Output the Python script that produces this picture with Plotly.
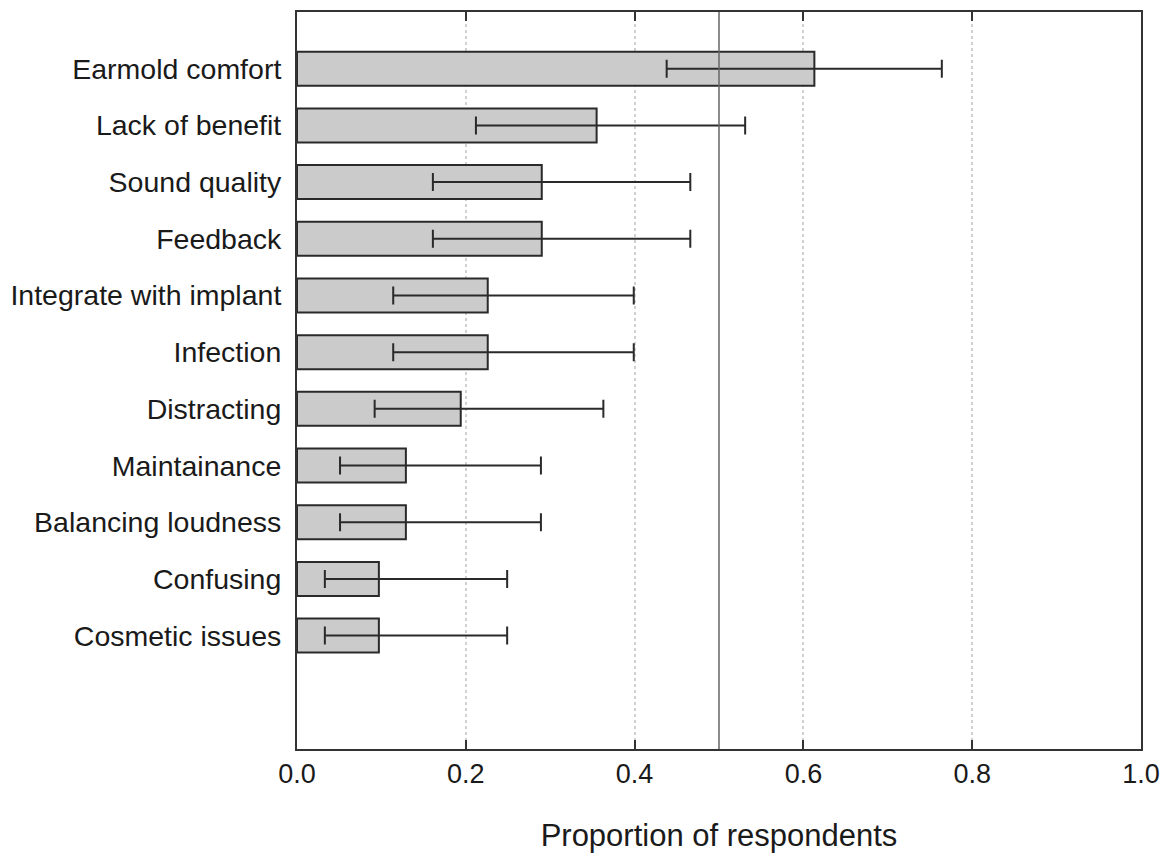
import plotly.graph_objects as go

categories = ["Earmold comfort", "Lack of benefit", "Sound quality", "Feedback",
              "Integrate with implant", "Infection", "Distracting", "Maintainance",
              "Balancing loudness", "Confusing", "Cosmetic issues"]
proportion = [0.613, 0.355, 0.290, 0.290, 0.226, 0.226, 0.194, 0.129, 0.129, 0.097, 0.097]
ci_low = [0.438, 0.212, 0.161, 0.161, 0.114, 0.114, 0.092, 0.051, 0.051, 0.033, 0.033]
ci_high = [0.764, 0.531, 0.466, 0.466, 0.399, 0.399, 0.363, 0.289, 0.289, 0.249, 0.249]
x_ticks = [0.0, 0.2, 0.4, 0.6, 0.8, 1.0]
x_tick_labels = ["0.0", "0.2", "0.4", "0.6", "0.8", "1.0"]
reference_line = 0.5

n = len(categories)
ypos = [n - i for i in range(n)]
err_plus = [h - v for h, v in zip(ci_high, proportion)]
err_minus = [v - l for v, l in zip(proportion, ci_low)]

fig = go.Figure()
fig.add_trace(go.Bar(
    x=proportion, y=ypos, orientation="h", width=0.6,
    marker=dict(color="#cbcbcb", line=dict(color="#2a2a2a", width=2)),
    error_x=dict(type="data", symmetric=False, array=err_plus, arrayminus=err_minus,
                 color="#2a2a2a", thickness=2, width=9),
    showlegend=False, hoverinfo="x+y",
))

fig.add_shape(type="line", xref="x", yref="paper", x0=reference_line, x1=reference_line,
              y0=0, y1=1, line=dict(color="#666666", width=1.5), layer="above")

font_family = "Liberation Sans, Arial, sans-serif"
fig.update_layout(
    width=1170, height=857,
    margin=dict(l=289, r=37, t=2, b=116),
    paper_bgcolor="white", plot_bgcolor="white",
    font=dict(family=font_family, color="#1a1a1a", size=27),
    xaxis=dict(
        range=[0, 1.0], tickvals=x_ticks, ticktext=x_tick_labels,
        ticks="inside", ticklen=9, tickwidth=2, tickcolor="#333333",
        showline=True, linecolor="#333333", linewidth=2, mirror="ticks",
        showgrid=True, gridcolor="#d0d0d0", griddash="dot", gridwidth=1.5,
        zeroline=False,
        tickfont=dict(size=27, family=font_family, color="#1a1a1a"),
        title=dict(text="Proportion of respondents", standoff=36,
                   font=dict(size=31, family=font_family, color="#1a1a1a")),
    ),
    yaxis=dict(
        range=[-1, 12], tickvals=ypos, ticktext=categories,
        ticks="", showline=True, linecolor="#333333", linewidth=2, mirror=True,
        showgrid=False, zeroline=False, ticklabelstandoff=8,
        tickfont=dict(size=28.5, family=font_family, color="#1a1a1a"),
    ),
)

fig.write_html("out.html")
